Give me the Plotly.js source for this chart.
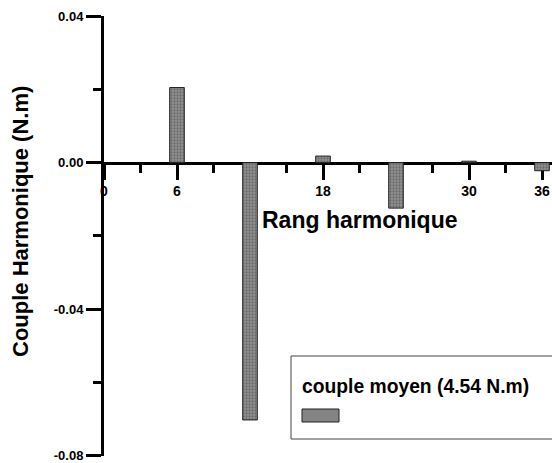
<!DOCTYPE html>
<html>
<head>
<meta charset="utf-8">
<script src="https://cdn.plot.ly/plotly-3.0.1.min.js"></script>
<style>
  html, body { margin: 0; padding: 0; background: #fff; }
  #chart { width: 552px; height: 463px; }
</style>
</head>
<body>
<div id="chart"></div>
<script>
// Harmonic torque components (N.m) by harmonic rank
const harmonics = [6, 12, 18, 24, 30, 36];
const torque = [0.0205, -0.0702, 0.0018, -0.0124, 0.0004, -0.0022];

const xTickVals = [0, 6, 18, 30, 36];
const xTickText = ['0', '6', '18', '30', '36'];
const xMinorVals = [3, 9, 15, 21, 27, 33];
const yTickVals = [-0.08, -0.04, 0, 0.04];
const yTickText = ['-0.08', '-0.04', '0.00', '0.04'];
const yMinorVals = [-0.06, -0.02, 0.02];

const xTitle = 'Rang harmonique';
const yTitle = 'Couple Harmonique (N.m)';
const legendLabel = 'couple moyen (4.54 N.m)';

const FONT = 'Liberation Sans, Arial, Helvetica, sans-serif';
const W = 552, H = 463;
const M = { l: 104, r: 0, t: 16, b: 7 };
const plotW = W - M.l - M.r, plotH = H - M.t - M.b;
// pixel -> paper helpers for the legend frame and title placement
const px = x => (x - M.l) / plotW;
const py = y => (H - M.b - y) / plotH;

const barFill = '#848484';
const AXW = 3;

const trace = {
  type: 'bar',
  x: harmonics,
  y: torque,
  width: 1.2,
  name: legendLabel,
  showlegend: false,
  marker: {
    color: barFill,
    line: { color: '#222', width: 1 },
    pattern: { shape: '.', size: 3, solidity: 0.45, fgcolor: '#6a6a6a', bgcolor: '#939393' }
  },
  hoverinfo: 'x+y'
};

const layout = {
  width: W,
  height: H,
  margin: M,
  paper_bgcolor: '#fff',
  plot_bgcolor: '#fff',
  showlegend: false,
  font: { family: FONT, color: '#000' },
  xaxis: {
    range: [0, (W - M.l) / (438 / 36)],
    anchor: 'free',
    position: 2 / 3,
    showline: true, linecolor: '#000', linewidth: AXW,
    showgrid: false, zeroline: false,
    tickmode: 'array', tickvals: xTickVals, ticktext: xTickText,
    ticks: 'outside', ticklen: 15, tickwidth: AXW, tickcolor: '#000',
    tickfont: { family: FONT, size: 14, weight: 700, color: '#000' },
    minor: { tickmode: 'array', tickvals: xMinorVals, ticks: 'outside', ticklen: 8, tickwidth: AXW, tickcolor: '#000' },
    layer: 'below traces',
    fixedrange: true
  },
  yaxis: {
    range: [-0.08004, 0.04002],
    showline: true, linecolor: '#000', linewidth: AXW,
    showgrid: false, zeroline: false,
    tickmode: 'array', tickvals: yTickVals, ticktext: yTickText,
    ticks: 'outside', ticklen: 15, tickwidth: AXW, tickcolor: '#000',
    ticklabeloverflow: 'allow',
    tickfont: { family: FONT, size: 13, weight: 700, color: '#000' },
    minor: { tickmode: 'array', tickvals: yMinorVals, ticks: 'outside', ticklen: 8, tickwidth: AXW, tickcolor: '#000' },
    fixedrange: true
  },
  annotations: [
    {
      text: yTitle, showarrow: false, textangle: -90,
      xref: 'paper', yref: 'paper', x: px(21), y: py(222),
      xanchor: 'center', yanchor: 'middle',
      font: { family: FONT, size: 22, weight: 700, color: '#000' }
    },
    {
      text: xTitle, showarrow: false,
      xref: 'paper', yref: 'paper', x: px(360), y: py(220),
      xanchor: 'center', yanchor: 'middle',
      font: { family: FONT, size: 23, weight: 700, color: '#000' }
    },
    {
      text: legendLabel, showarrow: false,
      xref: 'paper', yref: 'paper', x: px(300), y: py(386),
      xanchor: 'left', yanchor: 'middle',
      font: { family: FONT, size: 19.3, weight: 700, color: '#000' }
    }
  ],
  shapes: [
    {
      type: 'rect', xref: 'paper', yref: 'paper',
      x0: px(291), x1: px(W + 20), y0: py(439), y1: py(356),
      line: { color: '#444', width: 1 }, fillcolor: 'rgba(255,255,255,1)', layer: 'above'
    },
    {
      type: 'rect', xref: 'paper', yref: 'paper',
      x0: px(302), x1: px(339), y0: py(422), y1: py(409),
      line: { color: '#222', width: 1 }, fillcolor: barFill, layer: 'above'
    }
  ]
};

Plotly.newPlot('chart', [trace], layout, { displayModeBar: false, staticPlot: true });
</script>
</body>
</html>
